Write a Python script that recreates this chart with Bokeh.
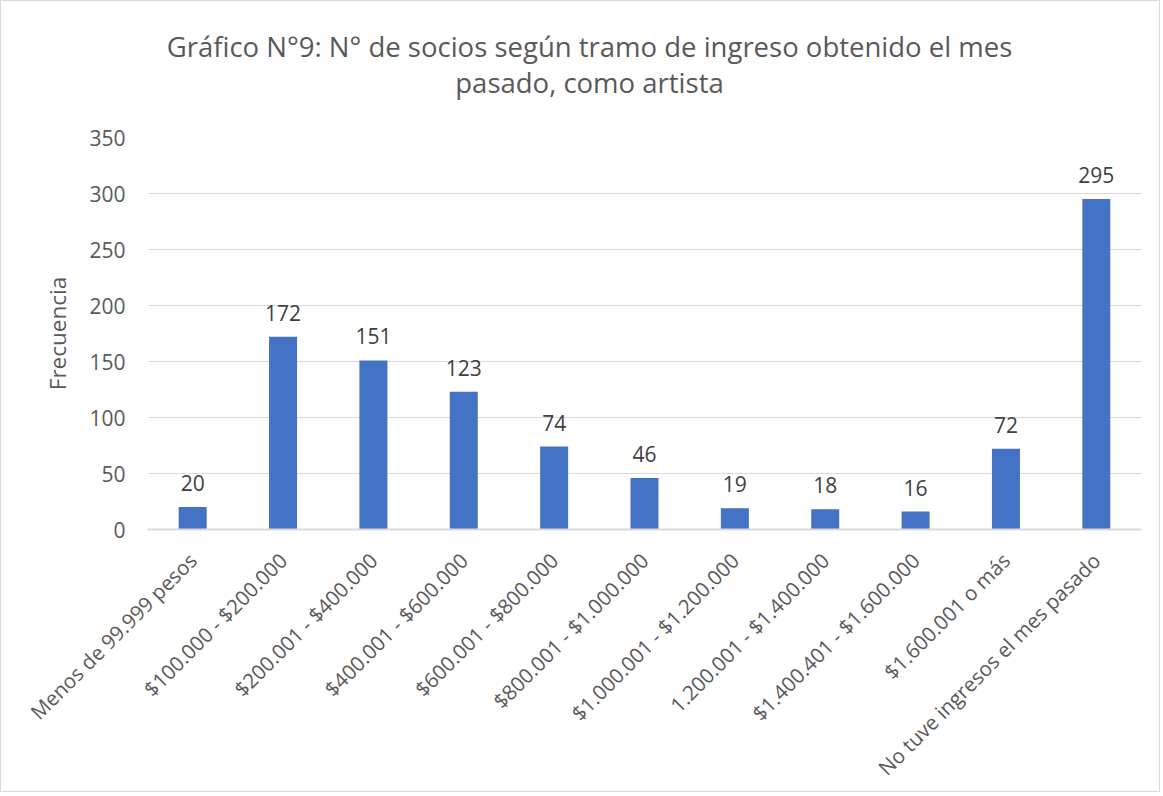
from bokeh.plotting import figure
from bokeh.models import (ColumnDataSource, FactorRange, Range1d, LabelSet, Label,
                          SingleIntervalTicker)
from bokeh.core.properties import value
from bokeh.embed import file_html
from bokeh.resources import INLINE

# ---- data ----
categories = [
    "Menos de 99.999 pesos",
    "$100.000 - $200.000",
    "$200.001 - $400.000",
    "$400.001 - $600.000",
    "$600.001 - $800.000",
    "$800.001 - $1.000.000",
    "$1.000.001 - $1.200.000",
    "1.200.001 - $1.400.000",
    "$1.400.401 - $1.600.000",
    "$1.600.001 o más",
    "No tuve ingresos el mes pasado",
]
values = [20, 172, 151, 123, 74, 46, 19, 18, 16, 72, 295]
labels = [str(v) for v in values]
title_lines = ["Gráfico N°9: N° de socios según tramo de ingreso obtenido el mes",
               "pasado, como artista"]
y_label = "Frecuencia"

FONT = "Open Sans"
TXT = "#595959"
GRID = "#D9D9D9"
BAR = "#4472C4"

W, H = 1160, 792
p = figure(width=W, height=H, x_range=FactorRange(*categories, range_padding=0),
           y_range=Range1d(0, 350), output_backend="svg", toolbar_location=None,
           min_border_left=146, min_border_right=20, min_border_top=136,
           min_border_bottom=262)
p.outline_line_color = None
p.styles = {"border": "1px solid #D9D9D9"}

src = ColumnDataSource(dict(cat=categories, val=values, lab=labels))
p.vbar(x="cat", top="val", width=0.31, source=src, fill_color=BAR, line_color=None)

p.add_layout(LabelSet(x="cat", y="val", text="lab", source=src, text_align="center",
                      text_baseline="alphabetic", y_offset=16, text_font=value(FONT),
                      text_font_size="21px", text_color="#404040"))

# axes
p.xgrid.grid_line_color = None
p.ygrid.grid_line_color = GRID
p.ygrid.grid_line_width = 1
tick = SingleIntervalTicker(interval=50)
p.yaxis.ticker = tick
p.ygrid.ticker = tick
p.yaxis.axis_line_color = None
p.yaxis.major_tick_line_color = None
p.yaxis.minor_tick_line_color = None
p.yaxis.major_label_text_font = FONT
p.yaxis.major_label_text_font_size = "21px"
p.yaxis.major_label_text_color = TXT
p.yaxis.major_label_standoff = 16
p.yaxis.axis_label = y_label
p.yaxis.axis_label_text_font = FONT
p.yaxis.axis_label_text_font_size = "22.5px"
p.yaxis.axis_label_text_font_style = "normal"
p.yaxis.axis_label_text_color = TXT
p.yaxis.axis_label_standoff = 13

p.xaxis.axis_line_color = GRID
p.xaxis.axis_line_width = 2
p.xaxis.major_tick_line_color = None
p.xaxis.minor_tick_line_color = None
p.xaxis.major_label_orientation = 0.785398
p.xaxis.major_label_text_font = FONT
p.xaxis.major_label_text_font_size = "20.5px"
p.xaxis.major_label_text_color = TXT
p.xaxis.major_label_standoff = 21

# two-line title, centred on the whole chart (labels in the top panel)
for t, yy in ((title_lines[1], 55), (title_lines[0], 54)):
    p.add_layout(Label(x=442, y=yy, x_units="screen", y_units="screen",
                       text=t, text_align="center", text_baseline="alphabetic",
                       text_font=FONT, text_font_size="27.5px", text_color=TXT),
                 "above")

open("out.html", "w").write(file_html(p, INLINE))
